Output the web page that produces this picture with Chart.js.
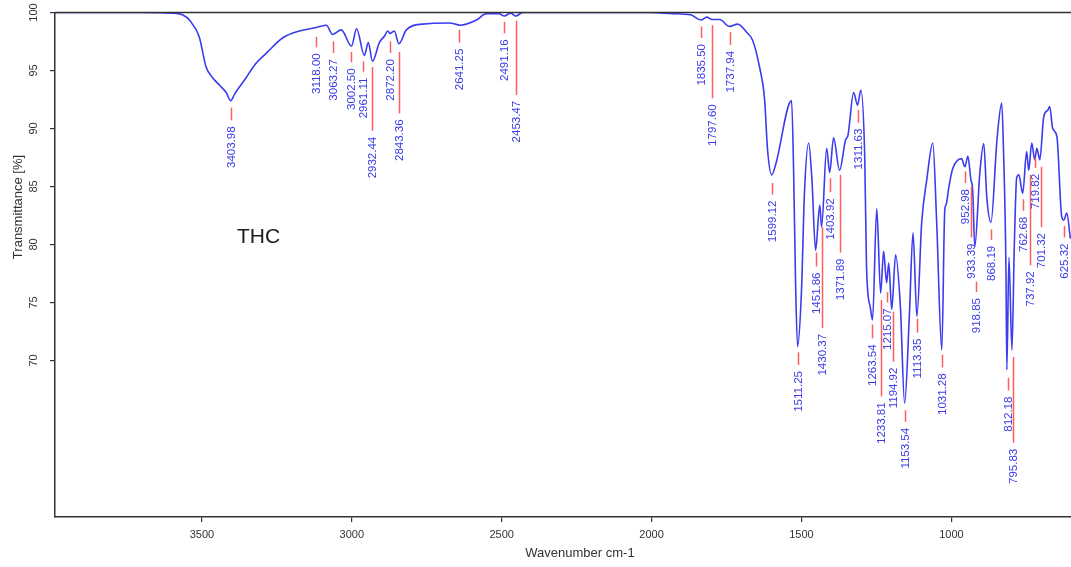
<!DOCTYPE html>
<html>
<head>
<meta charset="utf-8">
<script src="https://cdn.jsdelivr.net/npm/chart.js@4/dist/chart.umd.min.js"></script>
<style>
html,body{margin:0;padding:0;background:#fff;overflow:hidden}
#wrap{width:1071px;height:567px;position:relative}
</style>
</head>
<body>
<div id="wrap"><canvas id="ir"></canvas></div>
<script>
var wavenumber = [3990,3700,3600,3565,3540,3509,3486,3465,3440,3419,3404,3390,3352,3320,3285,3231,3175,3118,3085,3064,3035,3001,2984,2958,2945,2931,2908,2890,2880,2872,2858,2843,2818,2765,2674,2638,2584,2551,2510,2491,2470,2453,2430,2000,
  1930,1870,1835,1816,1798,1773,1740,1713,1683,1663,1640,1623,1613,1599,1585,1533,1526,1520,1513,1500,1490,1476,1465,1453,1439,1433,1416,1406,1393,1373,1353,1345,1326,1313,1302,1289,1283,1270,1263,1249,1236,1226,1216,1209,1199,1186,1170,1156,1140,1128,1115,1099,1082,1062,1049,1032,1022,1018,1008,996,966,955,945,935,929,922,905,892,882,868,848,832,826,818,815,808,798,790,782,775,762,749,742,732,722,715,705,692,678,672,662,648,632,625,615,603];
var transmittance = [100,100,99.95,99.8,99.3,97.9,95.3,94.4,93.7,93.1,92.4,93.0,94.4,95.6,96.5,97.8,98.4,98.7,98.9,98.1,98.5,97.1,98.6,96.3,97.4,95.8,97.4,98.0,98.4,98.2,98.4,97.3,98.5,99.0,99.1,98.9,99.35,99.9,99.9,99.7,99.95,99.7,100,100,
  99.9,99.8,99.35,99.6,99.4,99.4,98.8,99.0,98.3,97.6,95.3,92.5,88.1,86.0,87.0,92.4,86,77,71.2,76,84.5,88.75,85.5,79.5,83.4,81.5,88.3,86.2,89.2,86.4,89.0,89.4,93.1,92.0,93.3,87.5,78,74.5,73.5,83.1,75.8,79.4,76.7,78.4,74.4,79.1,74.6,66.3,74,81.0,73.8,81.9,85.6,88.75,81.9,70.9,83.0,83.4,85.0,86.5,87.4,86.7,87.6,85.6,84.7,79.8,86.2,88.7,84.1,81.9,89.0,92.2,88,78,69.2,78.9,70.9,80,85.8,86.0,84.4,88.0,86.4,88.75,87.3,88.3,87.3,91.0,91.6,91.9,90.0,89.3,82.4,82.1,82.7,80.5];

var xTicks = [1000,1500,2000,2500,3000,3500];
var yTicks = [70,75,80,85,90,95,100];

// picked peaks: wavenumber, top and end of the red marker (in %T)
var peakWn = [3403.98,3118.00,3063.27,3002.50,2961.11,2932.44,2872.20,2843.36,2641.25,2491.16,2453.47,1835.50,1797.60,1737.94,
  1599.12,1511.25,1451.86,1430.37,1403.92,1371.89,1311.63,1263.54,1233.81,1215.07,1194.92,1153.54,1113.35,1031.28,
  952.98,933.39,918.85,868.19,812.18,795.83,762.68,737.92,719.82,701.32,625.32];
var peakTop = [91.8,97.9,97.5,96.6,95.8,95.3,97.5,96.6,98.5,99.2,99.3,98.8,98.9,98.3,
  85.3,70.7,79.3,81.5,85.7,86.0,91.6,73.1,75.2,75.9,74.2,65.7,73.6,70.5,
  86.3,85.0,76.8,81.3,68.5,70.3,83.9,86.0,87.5,86.7,81.6];
var peakEnd = [90.7,97.0,96.5,95.7,94.9,89.8,96.5,91.3,97.4,98.2,92.9,97.8,92.6,97.2,
  84.3,69.6,78.1,72.8,84.5,79.3,90.5,71.9,66.9,75.0,69.9,64.7,72.4,69.4,
  85.3,80.6,75.9,80.4,67.4,62.9,82.9,78.2,86.6,81.5,80.6];

var textFont = '"Liberation Sans", Arial, sans-serif';

var irLabels = {
  id: 'irLabels',
  afterDraw: function(chart) {
    var ctx = chart.ctx;
    var xs = chart.scales.x;
    var ys = chart.scales.y;
    var area = chart.chartArea;
    ctx.save();

    ctx.strokeStyle = '#333';
    ctx.lineWidth = 1.5;
    ctx.beginPath();
    ctx.moveTo(area.left, area.top);
    ctx.lineTo(area.right, area.top);
    ctx.stroke();

    ctx.fillStyle = '#333';
    ctx.font = '11px ' + textFont;
    ctx.textAlign = 'center';
    ctx.textBaseline = 'middle';
    yTicks.forEach(function(v) {
      ctx.save();
      ctx.translate(34, ys.getPixelForValue(v));
      ctx.rotate(-Math.PI / 2);
      ctx.fillText(String(v), 0, 0);
      ctx.restore();
    });

    ctx.font = '13px ' + textFont;
    ctx.save();
    ctx.translate(18, 207);
    ctx.rotate(-Math.PI / 2);
    ctx.fillText('Transmittance [%]', 0, 0);
    ctx.restore();
    ctx.fillText('Wavenumber cm-1', 580, 553);

    for (var i = 0; i < peakWn.length; i++) {
      var px = Math.round(xs.getPixelForValue(peakWn[i])) + 0.5;
      var y1 = ys.getPixelForValue(peakTop[i]);
      var y2 = ys.getPixelForValue(peakEnd[i]);
      ctx.strokeStyle = '#ff5c5c';
      ctx.lineWidth = 1.5;
      ctx.beginPath();
      ctx.moveTo(px, y1);
      ctx.lineTo(px, y2);
      ctx.stroke();
      ctx.save();
      ctx.translate(px, y2 + 6);
      ctx.rotate(-Math.PI / 2);
      ctx.fillStyle = '#3a3aea';
      ctx.font = '11.5px ' + textFont;
      ctx.textAlign = 'right';
      ctx.textBaseline = 'middle';
      ctx.fillText(peakWn[i].toFixed(2), 0, 0);
      ctx.restore();
    }

    ctx.fillStyle = '#1a1a1a';
    ctx.font = '21px ' + textFont;
    ctx.textAlign = 'left';
    ctx.textBaseline = 'alphabetic';
    ctx.fillText('THC', 237, 243);
    ctx.restore();
  }
};

var points = wavenumber.map(function(w, i) { return {x: w, y: transmittance[i]}; });

new Chart(document.getElementById('ir'), {
  type: 'line',
  data: {
    datasets: [{
      data: points,
      borderColor: '#3b3bf0',
      borderWidth: 1.6,
      pointRadius: 0,
      cubicInterpolationMode: 'monotone',
      fill: false
    }]
  },
  options: {
    responsive: true,
    maintainAspectRatio: false,
    animation: false,
    layout: {padding: {top: 12.5, right: 0, left: 0, bottom: 0}},
    plugins: {legend: {display: false}, tooltip: {enabled: false}},
    scales: {
      x: {
        type: 'linear',
        reverse: true,
        min: 601,
        max: 3990,
        afterBuildTicks: function(scale) {
          scale.ticks = xTicks.map(function(v) { return {value: v}; });
        },
        afterFit: function(scale) { scale.height = 50; },
        ticks: {
          color: '#333',
          font: {family: textFont, size: 11},
          padding: 6,
          maxRotation: 0,
          callback: function(v) { return String(v); }
        },
        grid: {drawOnChartArea: false, drawTicks: true, tickLength: 5, color: '#333', lineWidth: 1.2},
        border: {display: true, color: '#333', width: 1.5}
      },
      y: {
        type: 'linear',
        min: 56.5,
        max: 100,
        afterBuildTicks: function(scale) {
          scale.ticks = yTicks.map(function(v) { return {value: v}; });
        },
        afterFit: function(scale) { scale.width = 55; },
        ticks: {display: false},
        grid: {drawOnChartArea: false, drawTicks: true, tickLength: 5, color: '#333', lineWidth: 1.2},
        border: {display: true, color: '#333', width: 1.5}
      }
    }
  },
  plugins: [irLabels]
});
</script>
</body>
</html>
